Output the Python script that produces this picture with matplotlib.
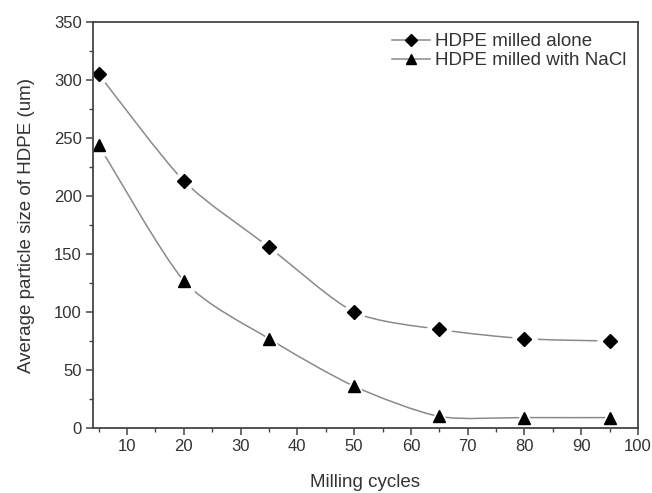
import numpy as np
import matplotlib
matplotlib.use("Agg")
from matplotlib import pyplot as plt
from matplotlib.path import Path
from matplotlib.patches import PathPatch
from matplotlib.lines import Line2D
from matplotlib.ticker import MultipleLocator

plt.rcParams['font.family'] = ['Liberation Sans', 'DejaVu Sans']

cycles = [5, 20, 35, 50, 65, 80, 95]
alone = [305, 213, 156, 100, 85, 77, 75]
nacl = [244, 127, 77, 36, 10, 9, 9]
labels = ['HDPE milled alone', 'HDPE milled with NaCl']

txt = '#333333'
lc = '#8a8a8a'


def smooth_path(x, y):
    # cubic bezier pieces through the points (Catmull-Rom tangents)
    p = np.column_stack([x, y]).astype(float)
    n = len(p)
    verts = [p[0]]
    codes = [Path.MOVETO]
    for i in range(n - 1):
        p0 = p[i - 1] if i > 0 else p[i]
        p3 = p[i + 2] if i + 2 < n else p[i + 1]
        c1 = p[i] + (p[i + 1] - p0) / 8
        c2 = p[i + 1] - (p3 - p[i]) / 8
        verts += [c1, c2, p[i + 1]]
        codes += [Path.CURVE4] * 3
    return Path(verts, codes)


fig = plt.figure(figsize=(6.52, 4.93), dpi=100)
ax = fig.add_axes([0.1426, 0.1318, 0.8359, 0.8236])

for ys, m in [(alone, 'D'), (nacl, '^')]:
    ax.add_patch(PathPatch(smooth_path(cycles, ys), fc='none', ec=lc, lw=1.1, zorder=2))
    ax.plot(cycles, ys, ls='none', marker=m, ms=15 if m == '^' else 13,
            mfc='white', mec='white', zorder=2.1)
    ax.plot(cycles, ys, ls='none', marker=m, ms=8 if m == '^' else 7,
            mfc='black', mec='black', zorder=2.2)

ax.set_xlim(4, 100)
ax.set_ylim(0, 350)
ax.xaxis.set_major_locator(MultipleLocator(10))
ax.xaxis.set_minor_locator(MultipleLocator(5))
ax.yaxis.set_major_locator(MultipleLocator(50))
ax.yaxis.set_minor_locator(MultipleLocator(25))
ax.tick_params(which='both', direction='out', colors='#444444', labelcolor=txt,
               labelsize=12)
ax.tick_params(which='major', length=5, width=1.1, pad=3)
ax.tick_params(which='minor', length=3, width=1)
for s in ax.spines.values():
    s.set_color('#444444')
    s.set_linewidth(1.3)
    s.set_zorder(3)

ax.set_xlabel('Milling cycles', fontsize=13.5, color=txt, labelpad=14)
ax.set_ylabel('Average particle size of HDPE (um)', fontsize=13.5, color=txt, labelpad=14)

handles = [Line2D([], [], color=lc, lw=1.1, marker='D', ms=6, mfc='black', mec='black'),
           Line2D([], [], color=lc, lw=1.1, marker='^', ms=7, mfc='black', mec='black')]
leg = ax.legend(handles, labels, loc='upper right', frameon=False, fontsize=13.5,
                handlelength=2.0, handletextpad=0.3, labelspacing=0.1,
                borderaxespad=0.2)
for t in leg.get_texts():
    t.set_color(txt)

fig.savefig('out.png', dpi=100)
